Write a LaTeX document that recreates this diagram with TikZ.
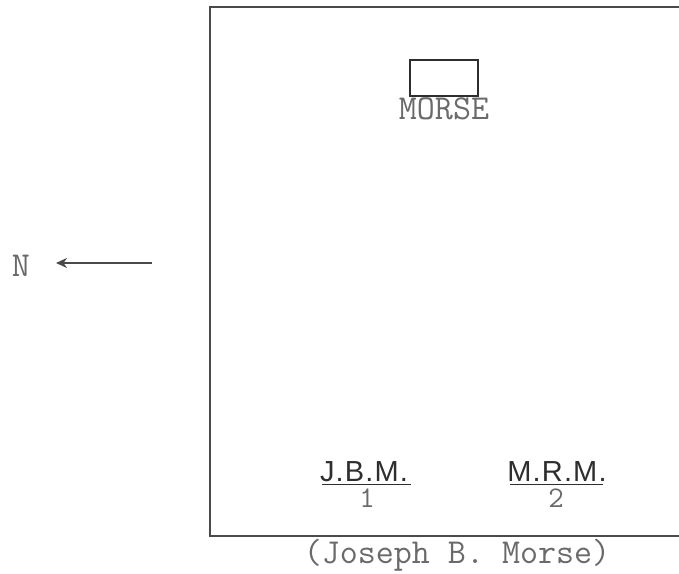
\documentclass[tikz,border=0pt]{standalone}
\usepackage{fontspec}
\usetikzlibrary{arrows.meta}
\newfontfamily\handfont[LetterSpace=4]{Liberation Sans}
\definecolor{ink}{HTML}{4A4A4A}
\definecolor{typeink}{HTML}{6A6A6A}
\definecolor{handink}{HTML}{2E2E2E}
\tikzset{
  boxline/.style={draw=ink, line width=2.2pt},
  typed/.style={inner sep=0pt, text=typeink, font=\fontsize{35}{35}\selectfont\ttfamily, anchor=base},
  digit/.style={typed, font=\fontsize{30}{30}\selectfont\ttfamily},
  hand/.style={inner sep=0pt, text=handink, font=\fontsize{29}{29}\selectfont\handfont, anchor=base},
  uline/.style={draw=handink, line width=1.6pt},
  northarrow/.style={draw=ink, line width=2.2pt, -{Stealth[length=11pt,width=10pt]}}
}
\begin{document}
\begin{tikzpicture}[x=1pt,y=1pt]
\useasboundingbox (0,0) rectangle (679,573);
% lot boundary (open on the right)
\coordinate (tr) at (679,566);
\coordinate (tl) at (210,566);
\coordinate (bl) at (210,37);
\coordinate (br) at (679,37);
\draw[boxline] (tr) -- (tl) -- (bl) -- (br);
% house
\node[draw=handink, line width=1.6pt, minimum width=68pt, minimum height=36pt, inner sep=0pt] (house) at (444,495) {};
\node[typed] (morse) at (444,453) {MORSE};
% north arrow
\node[typed] (N) at (21,296) {N};
\coordinate (atail) at (152,310);
\coordinate (ahead) at (56,310);
\draw[northarrow] (atail) -- (ahead);
% graves
\node[hand] (jbm) at (364,92) {J.B.M.};
\coordinate (u1a) at (322,88.5);
\coordinate (u1b) at (411,88.5);
\draw[uline] (u1a) -- (u1b);
\node[digit] (one) at (367,66) {1};
\node[hand] (mrm) at (557,92) {M.R.M.};
\coordinate (u2a) at (510,88.5);
\coordinate (u2b) at (603,88.5);
\draw[uline] (u2a) -- (u2b);
\node[digit] (two) at (556,66) {2};
% caption
\node[typed] (caption) at (457,10) {(Joseph B. Morse)};
\end{tikzpicture}
\end{document}
